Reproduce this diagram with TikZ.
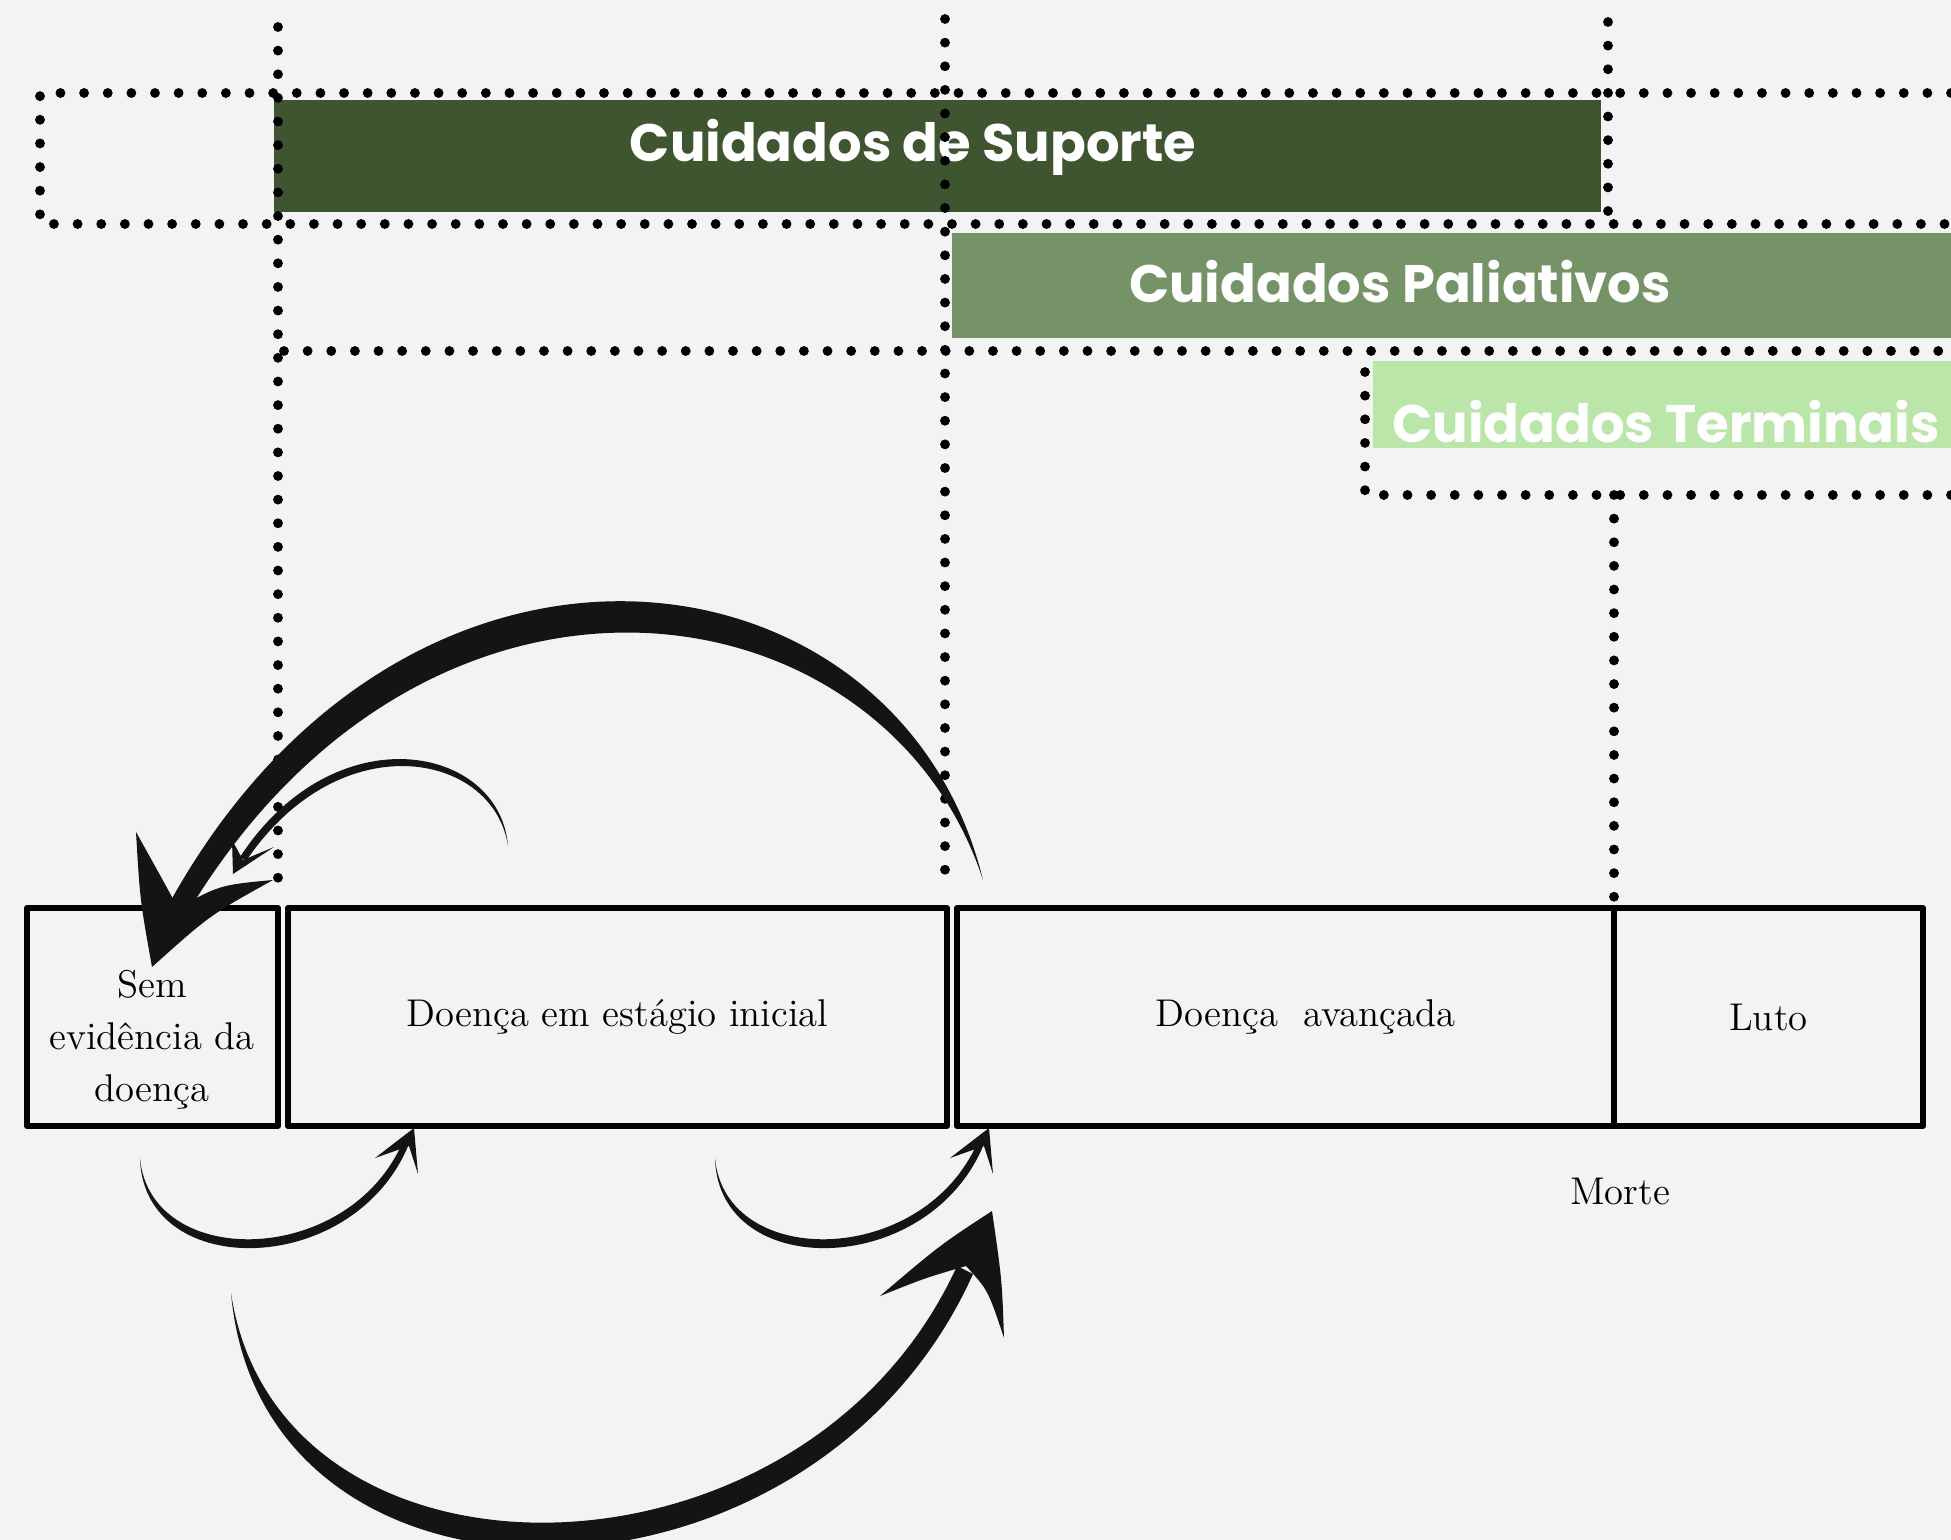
\documentclass[tikz,border=0pt]{standalone}
\usepackage{fontspec}
\newfontfamily\headfont{Poppins}
\definecolor{papel}{HTML}{F2F3F2}
\definecolor{verdeescuro}{HTML}{3E5530}
\definecolor{verdemedio}{HTML}{759367}
\definecolor{verdeclaro}{HTML}{BBE6AA}
\definecolor{tinta}{HTML}{141414}

\begin{document}
\begin{tikzpicture}[x=0.01cm,y=-0.01cm,line join=round,line cap=round,
  pontos/.style={line width=2.8pt,dash pattern=on 0pt off 6.72pt,line cap=round},
  faixa/.style={text=white,font=\headfont\bfseries\fontsize{15}{18}\selectfont},
  fase/.style={draw,line width=1.6pt,inner sep=0pt,align=center,minimum height=2.18cm,font=\fontsize{11}{14.8}\selectfont},
  texto/.style={align=center,inner sep=0pt,font=\fontsize{11}{14.8}\selectfont},
  seta/.style={fill=tinta}]
 \fill[papel] (0,0) rectangle (1951,1540);
 \useasboundingbox (0,0) rectangle (1951,1540);
 % faixas de cuidados
 \fill[verdeescuro] (274,100) rectangle (1601,212);
 \fill[verdemedio] (952,233) rectangle (1951,338);
 \fill[verdeclaro] (1373,361) rectangle (1951,448);
 \node[faixa] (suporte) at (913,147) {Cuidados de Suporte};
 \node[faixa] (paliativos) at (1400,282) {Cuidados Paliativos};
 \node[faixa] (terminais) at (1666,422) {Cuidados Terminais};
 % linhas pontilhadas
 \draw[pontos] (1951,93) -- (40,93) -- (40,224) -- (1951,224);
 \draw[pontos] (284,351) -- (1951,351);
 \draw[pontos] (1951,495) -- (1365,495) -- (1365,355);
 \draw[pontos] (278,27) -- (278,890);
 \draw[pontos] (945,19) -- (945,883);
 \draw[pontos] (1608,22) -- (1608,212);
 \draw[pontos] (1614,495) -- (1614,898);
 % fases da doenca
 \node[fase,minimum width=2.51cm] (sem) at (152.5,1017) {};
 \node[texto] (semtexto) at (152,1040) {Sem\\evidência da\\doença};
 \node[fase,minimum width=6.59cm] (inicial) at (617.5,1017) {Doença em estágio inicial};
 \node[fase,minimum width=6.57cm] (avancada) at (1285.5,1017) {\hspace*{4mm}Doença\ \ avançada};
 \node[fase,minimum width=3.09cm] (luto) at (1768.5,1017) {Luto};
 \node[texto] (morte) at (1620,1191) {Morte};
 % setas de cima
 \fill[seta] (983,880) .. controls (900,540) and (410,470) .. (170,902) -- (188,912) .. controls (430,510) and (885,580) .. (983,880) -- cycle;
 \fill[seta] (152,967) .. controls (140,900) .. (136,832) .. controls (160,875) .. (178,908) .. controls (220,885) .. (273,880) .. controls (210,915) .. (152,967) -- cycle;
 \fill[seta] (508,846) .. controls (500,745) and (335,712) .. (240,857) -- (246,861) .. controls (340,722) and (494,752) .. (508,846) -- cycle;
 \fill[seta] (232,840) -- (233,874) -- (274,847) -- (243,860) -- cycle;
 % setas de baixo
 \foreach \dx in {0,575}{
  \begin{scope}[shift={(\dx,0)}]
   \fill[seta] (140,1158) .. controls (143,1284) and (362,1279) .. (412,1136) -- (406,1134) .. controls (356,1268) and (150,1272) .. (140,1158) -- cycle;
   \fill[seta] (375,1158) -- (414,1128) -- (418,1174) -- (409,1146) -- cycle;
  \end{scope}
 }
 \fill[seta] (231,1293) .. controls (262,1640) and (812,1632) .. (973,1274) -- (957,1266) .. controls (805,1600) and (278,1607) .. (231,1293) -- cycle;
 \fill[seta] (992,1211) .. controls (940,1245) .. (880,1296) .. controls (925,1278) .. (966,1266) .. controls (988,1290) .. (1004,1338) .. controls (1002,1280) .. (992,1211) -- cycle;
\end{tikzpicture}
\end{document}
